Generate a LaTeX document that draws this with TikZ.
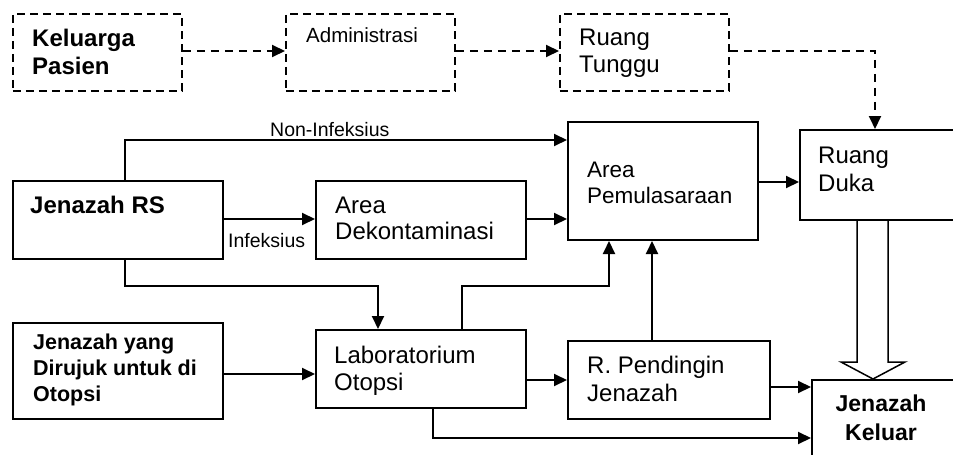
\documentclass[tikz,border=0pt]{standalone}
\usepackage{fontspec}
\setmainfont{Liberation Sans}
\usetikzlibrary{arrows.meta}
\begin{document}
\begin{tikzpicture}[x=1pt,y=-1pt,
  box/.style={draw, line width=2pt, rectangle, anchor=north west, inner sep=0pt},
  dbox/.style={box, dash pattern=on 8pt off 5pt, line width=1.8pt},
  lbl/.style={anchor=base west, inner sep=0pt, align=left, font=\fontsize{24}{27}\selectfont},
  blbl/.style={lbl, font=\fontsize{23.5}{27}\selectfont\bfseries},
  small/.style={anchor=base west, inner sep=0pt, font=\fontsize{19.5}{22}\selectfont},
  conn/.style={line width=2pt, -{Triangle[length=13pt,width=12pt]}},
  dconn/.style={conn, dash pattern=on 8pt off 6pt},
]
\path[use as bounding box, clip] (0,0) rectangle (953,455);

% boxes
\node[dbox, minimum width=169pt, minimum height=77pt] (kel) at (12,13) {};
\node[dbox, minimum width=169pt, minimum height=77pt] (adm) at (285,13) {};
\node[dbox, minimum width=169pt, minimum height=77pt] (rtg) at (559,13) {};
\node[box, minimum width=210pt, minimum height=78pt] (rs) at (12,180) {};
\node[box, minimum width=210pt, minimum height=78pt] (dek) at (315,180) {};
\node[box, minimum width=190pt, minimum height=118pt] (pem) at (567,121) {};
\node[box, minimum width=200pt, minimum height=90pt] (duka) at (799,129) {};
\node[box, minimum width=210pt, minimum height=96pt] (dir) at (12,322) {};
\node[box, minimum width=210pt, minimum height=78pt] (lab) at (315,329) {};
\node[box, minimum width=202pt, minimum height=78pt] (pend) at (567,340) {};
\node[box, minimum width=200pt, minimum height=120pt] (out) at (811,379) {};

% texts (anchored at the baseline of the last line)
\node[blbl, font=\fontsize{24}{28}\selectfont\bfseries] (kelT) at (32,74) {Keluarga\\Pasien};
\node[lbl, font=\fontsize{20.5}{24}\selectfont] (admT) at (306,42) {Administrasi};
\node[lbl] (rtgT) at (579,72) {Ruang\\Tunggu};
\node[blbl, font=\fontsize{24}{27}\selectfont\bfseries] (rsT) at (30,213) {Jenazah RS};
\node[lbl, font=\fontsize{24}{26}\selectfont] (dekT) at (335,239) {Area\\Dekontaminasi};
\node[lbl, font=\fontsize{22.5}{26}\selectfont] (pemT) at (587,203) {Area\\Pemulasaraan};
\node[lbl, font=\fontsize{24}{28}\selectfont] (dukaT) at (818,191) {Ruang\\Duka};
\node[blbl, font=\fontsize{21.5}{26}\selectfont\bfseries] (dirT) at (33,401) {Jenazah yang\\Dirujuk untuk di\\Otopsi};
\node[lbl] (labT) at (334,390) {Laboratorium\\Otopsi};
\node[lbl, font=\fontsize{24}{28}\selectfont] (pendT) at (587,401) {R. Pendingin\\Jenazah};
\node[blbl, anchor=base, align=center, font=\fontsize{23}{29}\selectfont\bfseries] (outT) at (881,440) {Jenazah\\Keluar};
\node[small] (nonT) at (270,136) {Non-Infeksius};
\node[small] (infT) at (228,247) {Infeksius};

% dashed connectors
\draw[dconn] (kel.east |- 0,51) -- (adm.west |- 0,51);
\draw[dconn] (adm.east |- 0,51) -- (rtg.west |- 0,51);
\draw[dconn] (rtg.east |- 0,51) -| (duka.north -| 875,0);

% solid connectors
\draw[conn] (rs.north -| 125,0) |- (pem.west |- 0,140);
\draw[conn] (rs.east |- 0,219) -- (dek.west |- 0,219);
\draw[conn] (dek.east |- 0,219) -- (pem.west |- 0,219);
\draw[conn] (rs.south -| 125,0) |- (378,286) -- (lab.north -| 378,0);
\draw[conn] (dir.east |- 0,374) -- (lab.west |- 0,374);
\draw[conn] (lab.north -| 462,0) |- (609,286) -- (pem.south -| 609,0);
\draw[conn] (pend.north -| 652,0) -- (pem.south -| 652,0);
\draw[conn] (pem.east |- 0,182) -- (duka.west |- 0,182);
\draw[conn] (lab.east |- 0,380) -- (pend.west |- 0,380);
\draw[conn] (pend.east |- 0,387) -- (out.west |- 0,387);
\draw[conn] (lab.south -| 433,0) |- (out.west |- 0,438);

% hollow arrow
\draw[line width=1.5pt, fill=white, line join=miter]
  (duka.south -| 857,0) -- (857,362) -- (841,362) -- (out.north -| 873,0)
  -- (905,362) -- (888,362) -- (duka.south -| 888,0);
\end{tikzpicture}
\end{document}
